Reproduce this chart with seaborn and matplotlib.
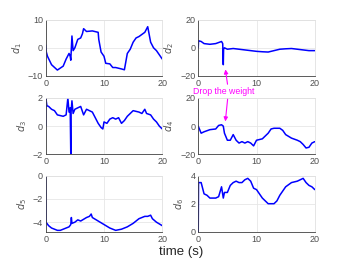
import numpy as np
import pandas as pd
import seaborn as sns
import matplotlib.pyplot as plt

# joint offsets (time in s)
t1 = [0, 0.1, 0.3, 1, 2, 3, 3.5, 4, 4.2, 4.3, 4.5, 4.7, 5, 5.5, 6, 6.3, 6.5, 7, 8, 9, 9.1, 9.5, 10, 10.3,
      11, 11.5, 12, 13, 13.5, 14, 14.5, 15, 15.5, 16, 17, 17.5, 18, 18.5, 19, 19.5, 20]
d1 = [1, -1.5, -3, -6, -7.9, -6.5, -4, -2, -3, -4.4, 4.2, -1, 0, 3, 3.5, 5, 6.8, 5.8, 6, 5.5, 3, -1.5, -3, -5.5,
      -5.7, -7, -7, -7.5, -7.8, -2, -0.5, 2, 3.5, 4, 5.5, 7.5, 2, 0, -1, -2.5, -4]

t2 = [0, 0.05, 0.5, 1, 2, 3, 4, 4.2, 4.3, 4.35, 4.5, 5, 6, 7, 8, 9, 10, 11, 12, 13, 14, 15, 16, 17, 18, 19, 20]
d2 = [0, 5, 4.5, 3, 2.5, 3, 4.5, 3, -12, -1, 0, -1, -0.5, -1, -1.5, -2, -2.5, -2.8, -3, -2, -1, -0.7, -0.5, -1, -1.5, -2, -2]

t3 = [0, 0.02, 0.2, 0.5, 1, 1.5, 2, 3, 3.5, 3.8, 4.0, 4.2, 4.3, 4.35, 4.5, 4.7, 5, 5.5, 6, 6.5, 7, 7.5, 8, 8.5,
      9, 9.5, 9.8, 10, 10.5, 11, 11.5, 12, 12.5, 13, 13.5, 14, 14.5, 15, 16, 16.5, 17, 17.3, 18, 18.5, 19, 19.5, 20]
d3 = [0, 2, 1.45, 1.4, 1.2, 1.1, 0.8, 0.7, 0.8, 2, 1.0, 1.3, -2, 1.0, 1.8, 0.9, 1.2, 1.3, 1.4, 0.8, 1.2, 1.1, 1.0, 0.6,
      0.2, -0.1, -0.2, 0.3, 0.2, 0.5, 0.6, 0.5, 0.6, 0.2, 0.4, 0.7, 0.9, 1.1, 1.0, 0.9, 1.2, 0.9, 0.8, 0.5, 0.3, 0.0, -0.2]

t4 = [0, 0.5, 1, 2, 3, 3.5, 4, 4.3, 4.5, 5, 5.5, 6, 6.5, 7, 7.5, 8, 8.5, 9, 9.5, 10, 11, 12, 12.5, 13, 14, 14.5,
      15, 16, 17, 17.5, 18, 18.5, 19, 19.5, 20]
d4 = [0, -5, -4, -2.5, -2, 0.5, 1, 0, -5, -10, -10, -6, -10, -12, -11, -12, -11, -12, -14, -10, -9, -5, -2, -1.5, -1.5, -3,
      -6, -8.5, -10, -11, -13, -15.5, -15, -12, -11]

t5 = [0, 0.05, 0.5, 1, 2, 2.5, 3, 3.5, 4, 4.3, 4.4, 4.5, 5, 5.5, 6, 7, 7.5, 7.8, 8, 9, 10, 11, 12, 13, 14, 15, 16,
      17, 17.5, 18, 18.3, 19, 20]
d5 = [0, -4, -4.3, -4.5, -4.7, -4.7, -4.6, -4.5, -4.4, -4.2, -3.6, -4.1, -4.0, -3.8, -3.9, -3.6, -3.5, -3.3, -3.6, -3.9,
      -4.2, -4.5, -4.7, -4.6, -4.4, -4.1, -3.7, -3.5, -3.5, -3.4, -3.7, -4.0, -4.3]

t6 = [0, 0.05, 0.5, 1, 1.5, 2, 3, 3.5, 4, 4.3, 4.5, 5, 5.5, 6, 6.5, 7, 7.5, 8, 8.5, 9, 9.5, 10, 10.5, 11, 12, 13,
      13.5, 14, 15, 16, 17, 18, 18.5, 19, 19.5, 20]
d6 = [0, 3.5, 3.5, 2.7, 2.6, 2.4, 2.4, 2.5, 3.2, 2.4, 2.8, 2.8, 3.3, 3.5, 3.6, 3.5, 3.5, 3.7, 3.8, 3.6, 3.1, 3.0, 2.7,
      2.4, 2.0, 2.0, 2.2, 2.6, 3.2, 3.5, 3.6, 3.8, 3.5, 3.3, 3.2, 3.0]

series = [(t1, d1, "$d_1$", (-10, 10), [-10, 0, 10]),
          (t2, d2, "$d_2$", (-20, 20), [-20, 0, 20]),
          (t3, d3, "$d_3$", (-2, 2), [-2, 0, 2]),
          (t4, d4, "$d_4$", (-20, 20), [-20, 0, 20]),
          (t5, d5, "$d_5$", (-4.83, 0), [-4, -2, 0]),
          (t6, d6, "$d_6$", (0, 4), [0, 2, 4])]

sns.set_style("whitegrid")
plt.rcParams["font.family"] = ["Liberation Sans", "DejaVu Sans"]

fig = plt.figure(figsize=(3.49, 2.62), dpi=100)
lefts = [0.131, 0.568]
bottoms = [0.710, 0.411, 0.115]
axes = []
for i, (t, d, lab, yl, yt) in enumerate(series):
    ax = fig.add_axes([lefts[i % 2], bottoms[i // 2], 0.334, 0.215])
    df = pd.DataFrame({"t": t, "d": d})
    sns.lineplot(data=df, x="t", y="d", ax=ax, sort=False, estimator=None, color="#0000ff", lw=1.1)
    ax.set_xlim(0, 20)
    ax.set_ylim(*yl)
    ax.set_xticks([0, 10, 20])
    ax.set_yticks(yt)
    ax.set_xlabel("")
    ax.set_ylabel(lab, fontsize=7, color="#555555", labelpad=3)
    ax.tick_params(labelsize=6.5, colors="#505050", length=0, pad=2)
    ax.grid(color="#e6e6e6", lw=0.6)
    for s in ["left", "bottom"]:
        ax.spines[s].set_color("#404040")
        ax.spines[s].set_linewidth(0.6)
    for s in ["top", "right"]:
        ax.spines[s].set_color("#e0e0e0")
        ax.spines[s].set_linewidth(0.6)
    axes.append(ax)

fig.text(0.519, 0.038, "time (s)", ha="center", va="center", fontsize=9.5)

mag = "#ff00ff"
fig.text(0.642, 0.649, "Drop the weight", ha="center", va="center", fontsize=6.3, color=mag)
arrow = dict(arrowstyle="-|>", color=mag, lw=0.8, mutation_scale=6)
axes[1].annotate("", xy=(4.6, -13.4), xycoords="data", xytext=(0.653, 0.668),
                 textcoords="figure fraction", arrowprops=arrow)
axes[3].annotate("", xy=(4.6, 1.4), xycoords="data", xytext=(0.653, 0.632),
                 textcoords="figure fraction", arrowprops=arrow)

plt.savefig("out.png", dpi=100)
